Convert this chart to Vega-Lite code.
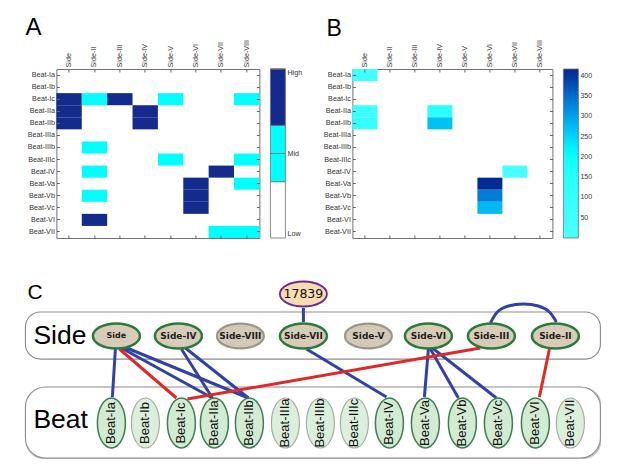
{
  "$schema": "https://vega.github.io/schema/vega-lite/v6.json",
  "padding": {"left": 24.4, "top": 15, "right": 0, "bottom": 0},
  "background": "white",
  "bounds": "flush",
  "spacing": 213,
  "config": {"font": "Liberation Sans", "view": {"stroke": "#707070"}},
  "datasets": {
    "heatA": [
      {"beat": "Beat-Ic", "side": "Side", "level": 3},
      {"beat": "Beat-Ic", "side": "Side-II", "level": 1.5},
      {"beat": "Beat-Ic", "side": "Side-III", "level": 3},
      {"beat": "Beat-Ic", "side": "Side-V", "level": 1.5},
      {"beat": "Beat-Ic", "side": "Side-VIII", "level": 1.5},
      {"beat": "Beat-IIa", "side": "Side", "level": 3},
      {"beat": "Beat-IIa", "side": "Side-IV", "level": 3},
      {"beat": "Beat-IIb", "side": "Side", "level": 3},
      {"beat": "Beat-IIb", "side": "Side-IV", "level": 3},
      {"beat": "Beat-IIIb", "side": "Side-II", "level": 1.5},
      {"beat": "Beat-IIIc", "side": "Side-V", "level": 1.5},
      {"beat": "Beat-IIIc", "side": "Side-VIII", "level": 1.5},
      {"beat": "Beat-IV", "side": "Side-II", "level": 1.5},
      {"beat": "Beat-IV", "side": "Side-VII", "level": 3},
      {"beat": "Beat-Va", "side": "Side-VI", "level": 3},
      {"beat": "Beat-Va", "side": "Side-VIII", "level": 1.5},
      {"beat": "Beat-Vb", "side": "Side-II", "level": 1.5},
      {"beat": "Beat-Vb", "side": "Side-VI", "level": 3},
      {"beat": "Beat-Vc", "side": "Side-VI", "level": 3},
      {"beat": "Beat-VI", "side": "Side-II", "level": 3},
      {"beat": "Beat-VII", "side": "Side-VII", "level": 1.5},
      {"beat": "Beat-VII", "side": "Side-VIII", "level": 1.5}
    ],
    "heatB": [
      {"beat": "Beat-Ia", "side": "Side", "count": 59},
      {"beat": "Beat-IIa", "side": "Side", "count": 72},
      {"beat": "Beat-IIb", "side": "Side", "count": 106},
      {"beat": "Beat-IIa", "side": "Side-IV", "count": 131},
      {"beat": "Beat-IIb", "side": "Side-IV", "count": 269},
      {"beat": "Beat-IV", "side": "Side-VII", "count": 26},
      {"beat": "Beat-Va", "side": "Side-VI", "count": 410},
      {"beat": "Beat-Vb", "side": "Side-VI", "count": 334},
      {"beat": "Beat-Vc", "side": "Side-VI", "count": 277}
    ],
    "boxes": [
      {"box": "Side", "x1": 25, "x2": 600, "y1": 310, "y2": 357},
      {"box": "Beat", "x1": 25, "x2": 600, "y1": 385, "y2": 456}
    ],
    "texts": [
      {"t": "C", "x": 27, "y": 297},
      {"t": "Side", "x": 33, "y": 342},
      {"t": "Beat", "x": 33, "y": 426}
    ],
    "edges": [
      {"from": "Side", "to": "Beat-Ia", "sign": "pos", "x": 115, "y": 347, "x2": 112, "y2": 395},
      {"from": "Side", "to": "Beat-IIa", "sign": "pos", "x": 121, "y": 346, "x2": 212, "y2": 396},
      {"from": "Side", "to": "Beat-IIb", "sign": "pos", "x": 124, "y": 345, "x2": 248, "y2": 396},
      {"from": "Side-IV", "to": "Beat-IIa", "sign": "pos", "x": 181, "y": 347, "x2": 212, "y2": 396},
      {"from": "Side-IV", "to": "Beat-IIb", "sign": "pos", "x": 185, "y": 346, "x2": 248, "y2": 396},
      {"from": "Side-VII", "to": "Beat-IV", "sign": "pos", "x": 306, "y": 347, "x2": 386, "y2": 395},
      {"from": "Side-VI", "to": "Beat-Va", "sign": "pos", "x": 428, "y": 347, "x2": 424, "y2": 395},
      {"from": "Side-VI", "to": "Beat-Vb", "sign": "pos", "x": 430, "y": 347, "x2": 458, "y2": 396},
      {"from": "Side-VI", "to": "Beat-Vc", "sign": "pos", "x": 432, "y": 346, "x2": 496, "y2": 396},
      {"from": "17839", "to": "Side-VII", "sign": "pos", "x": 303, "y": 306, "x2": 303, "y2": 320},
      {"from": "Side", "to": "Beat-Ic", "sign": "neg", "x": 119, "y": 347, "x2": 176, "y2": 396},
      {"from": "Side-III", "to": "Beat-Ic", "sign": "neg", "x": 480, "y": 346, "x2": 187, "y2": 397},
      {"from": "Side-II", "to": "Beat-VI", "sign": "neg", "x": 549, "y": 347, "x2": 539, "y2": 395}
    ],
    "arc": [
      {"x": 490, "y": 321},
      {"x": 497, "y": 310},
      {"x": 508, "y": 304},
      {"x": 523, "y": 302},
      {"x": 538, "y": 304},
      {"x": 549, "y": 310},
      {"x": 556, "y": 320}
    ],
    "nodes": [
      {"label": "17839", "kind": "key", "group": "key", "x": 303, "y": 292},
      {"label": "Side", "kind": "side", "group": "side-on", "x": 116, "y": 334},
      {"label": "Side-IV", "kind": "side", "group": "side-on", "x": 178, "y": 334},
      {"label": "Side-VIII", "kind": "side", "group": "side-off", "x": 240, "y": 334},
      {"label": "Side-VII", "kind": "side", "group": "side-on", "x": 303, "y": 334},
      {"label": "Side-V", "kind": "side", "group": "side-off", "x": 368, "y": 334},
      {"label": "Side-VI", "kind": "side", "group": "side-on", "x": 428, "y": 334},
      {"label": "Side-III", "kind": "side", "group": "side-on", "x": 491, "y": 334},
      {"label": "Side-II", "kind": "side", "group": "side-on", "x": 555, "y": 334},
      {"label": "Beat-Ia", "kind": "beat", "group": "beat-on", "x": 111, "y": 421},
      {"label": "Beat-Ib", "kind": "beat", "group": "beat-off", "x": 145, "y": 421},
      {"label": "Beat-Ic", "kind": "beat", "group": "beat-on", "x": 181, "y": 421},
      {"label": "Beat-IIa", "kind": "beat", "group": "beat-on", "x": 214, "y": 421},
      {"label": "Beat-IIb", "kind": "beat", "group": "beat-on", "x": 249, "y": 421},
      {"label": "Beat-IIIa", "kind": "beat", "group": "beat-off", "x": 285, "y": 421},
      {"label": "Beat-IIIb", "kind": "beat", "group": "beat-off", "x": 320, "y": 421},
      {"label": "Beat-IIIc", "kind": "beat", "group": "beat-off", "x": 354, "y": 421},
      {"label": "Beat-IV", "kind": "beat", "group": "beat-on", "x": 389, "y": 421},
      {"label": "Beat-Va", "kind": "beat", "group": "beat-on", "x": 425, "y": 421},
      {"label": "Beat-Vb", "kind": "beat", "group": "beat-on", "x": 462, "y": 421},
      {"label": "Beat-Vc", "kind": "beat", "group": "beat-on", "x": 498, "y": 421},
      {"label": "Beat-VI", "kind": "beat", "group": "beat-on", "x": 535, "y": 421},
      {"label": "Beat-VII", "kind": "beat", "group": "beat-off", "x": 570, "y": 421}
    ]
  },
  "vconcat": [
    {
      "bounds": "flush",
      "spacing": 93,
      "hconcat": [
        {
          "width": 203,
          "height": 169,
          "title": {"text": "A", "anchor": "start", "frame": "group", "dx": -31, "offset": -25, "baseline": "bottom", "fontSize": 24, "fontWeight": "normal", "font": "Liberation Sans", "color": "#000"},
          "data": {"name": "heatA"},
          "layer": [
            {
              "mark": {"type": "rect"},
              "encoding": {
                "x": {"field": "side", "type": "nominal",
                  "scale": {"type": "band", "domain": ["Side","Side-II","Side-III","Side-IV","Side-V","Side-VI","Side-VII","Side-VIII"], "paddingInner": 0, "paddingOuter": 0},
                  "axis": {"orient": "top", "title": null, "labelAngle": 270, "labelAlign": "left", "labelBaseline": "middle", "labelFontSize": 7.2, "labelColor": "#333", "labelFont": "Liberation Sans", "tickSize": -3, "tickColor": "#666", "labelPadding": 5, "domain": false, "grid": false}},
                "y": {"field": "beat", "type": "nominal",
                  "scale": {"type": "band", "domain": ["Beat-Ia","Beat-Ib","Beat-Ic","Beat-IIa","Beat-IIb","Beat-IIIa","Beat-IIIb","Beat-IIIc","Beat-IV","Beat-Va","Beat-Vb","Beat-Vc","Beat-VI","Beat-VII"], "paddingInner": 0, "paddingOuter": 0},
                  "axis": {"orient": "left", "title": null, "labelFontSize": 7.2, "labelColor": "#333", "labelFont": "Liberation Sans", "tickSize": -3, "tickColor": "#666", "labelPadding": 5, "domain": false, "grid": false}},
                "color": {"field": "level", "type": "quantitative",
                  "scale": {"type": "quantize", "domain": [0, 3], "range": ["#ffffff","#00ffff","#142a8c"]},
                  "legend": {"type": "gradient", "orient": "none", "legendX": 214, "legendY": 0, "direction": "vertical", "title": null, "gradientLength": 169, "gradientThickness": 15, "gradientStrokeColor": "#707070", "gradientStrokeWidth": 0.8, "values": [0, 1, 1.5, 2, 3], "labelExpr": "datum.value == 0 ? 'Low' : datum.value == 3 ? 'High' : datum.value == 1.5 ? 'Mid' : ''", "labelFontSize": 7.2, "labelColor": "#333", "labelFont": "Liberation Sans", "labelOffset": 2, "labelBaseline": "middle", "labelOverlap": false}}
              }
            },
            {
              "mark": {"type": "rect", "opacity": 0},
              "encoding": {
                "x": {"field": "side", "type": "nominal", "axis": {"orient": "bottom", "title": null, "labels": false, "tickSize": -3, "tickColor": "#666", "domain": false, "grid": false}},
                "y": {"field": "beat", "type": "nominal", "axis": {"orient": "right", "title": null, "labels": false, "tickSize": -3, "tickColor": "#666", "domain": false, "grid": false}}
              }
            }
          ],
          "resolve": {"axis": {"x": "independent", "y": "independent"}}
        },
        {
          "width": 200,
          "height": 169,
          "title": {"text": "B", "anchor": "start", "frame": "group", "dx": -26, "offset": -25, "baseline": "bottom", "fontSize": 23, "fontWeight": "normal", "font": "Liberation Sans", "color": "#000"},
          "data": {"name": "heatB"},
          "layer": [
            {
              "mark": {"type": "rect"},
              "encoding": {
                "x": {"field": "side", "type": "nominal",
                  "scale": {"type": "band", "domain": ["Side","Side-II","Side-III","Side-IV","Side-V","Side-VI","Side-VII","Side-VIII"], "paddingInner": 0, "paddingOuter": 0},
                  "axis": {"orient": "top", "title": null, "labelAngle": 270, "labelAlign": "left", "labelBaseline": "middle", "labelFontSize": 7.2, "labelColor": "#333", "labelFont": "Liberation Sans", "tickSize": -3, "tickColor": "#666", "labelPadding": 5, "domain": false, "grid": false}},
                "y": {"field": "beat", "type": "nominal",
                  "scale": {"type": "band", "domain": ["Beat-Ia","Beat-Ib","Beat-Ic","Beat-IIa","Beat-IIb","Beat-IIIa","Beat-IIIb","Beat-IIIc","Beat-IV","Beat-Va","Beat-Vb","Beat-Vc","Beat-VI","Beat-VII"], "paddingInner": 0, "paddingOuter": 0},
                  "axis": {"orient": "left", "title": null, "labelFontSize": 7.2, "labelColor": "#333", "labelFont": "Liberation Sans", "tickSize": -3, "tickColor": "#666", "labelPadding": 5, "domain": false, "grid": false}},
                "color": {"field": "count", "type": "quantitative",
                  "scale": {"domain": [0, 210, 417], "range": ["#ffffff", "#00ffff", "#13238a"]},
                  "legend": {"orient": "none", "legendX": 211, "legendY": 0, "direction": "vertical", "title": null, "gradientLength": 169, "gradientThickness": 15, "gradientStrokeColor": "#707070", "gradientStrokeWidth": 0.8, "values": [50, 100, 150, 200, 250, 300, 350, 400], "labelFontSize": 7, "labelColor": "#333", "labelFont": "Liberation Sans", "labelOffset": 2, "labelBaseline": "middle", "labelOverlap": false}}
              }
            },
            {
              "mark": {"type": "rect", "opacity": 0},
              "encoding": {
                "x": {"field": "side", "type": "nominal", "axis": {"orient": "bottom", "title": null, "labels": false, "tickSize": -3, "tickColor": "#666", "domain": false, "grid": false}},
                "y": {"field": "beat", "type": "nominal", "axis": {"orient": "right", "title": null, "labels": false, "tickSize": -3, "tickColor": "#666", "domain": false, "grid": false}}
              }
            }
          ],
          "resolve": {"axis": {"x": "independent", "y": "independent"}}
        }
      ]
    },
    {
      "width": 544,
      "height": 180,
      "view": {"stroke": null},
      "layer": [
        {
          "data": {"name": "boxes"},
          "mark": {"type": "rect", "cornerRadius": 17, "fill": null, "stroke": "#c4c4c4", "strokeWidth": 2, "xOffset": 1.2, "yOffset": 1.2},
          "encoding": {
            "x": {"field": "x1", "type": "quantitative", "scale": {"domain": [56, 600], "nice": false, "zero": false}, "axis": null},
            "x2": {"field": "x2"},
            "y": {"field": "y1", "type": "quantitative", "scale": {"domain": [280, 460], "nice": false, "zero": false, "reverse": true}, "axis": null},
            "y2": {"field": "y2"}
          }
        },
        {
          "data": {"name": "boxes"},
          "transform": [{"filter": "datum.box === 'Side'"}],
          "mark": {"type": "rect", "cornerRadius": 15, "fill": "#ffffff", "stroke": "#8c8c8c", "strokeWidth": 1.1},
          "encoding": {
            "x": {"field": "x1", "type": "quantitative", "axis": null},
            "x2": {"field": "x2"},
            "y": {"field": "y1", "type": "quantitative", "axis": null},
            "y2": {"field": "y2"}
          }
        },
        {
          "data": {"name": "boxes"},
          "transform": [{"filter": "datum.box === 'Beat'"}],
          "mark": {"type": "rect", "cornerRadius": 20, "fill": "#ffffff", "stroke": "#8c8c8c", "strokeWidth": 1.1},
          "encoding": {
            "x": {"field": "x1", "type": "quantitative", "axis": null},
            "x2": {"field": "x2"},
            "y": {"field": "y1", "type": "quantitative", "axis": null},
            "y2": {"field": "y2"}
          }
        },
        {
          "data": {"name": "edges"},
          "mark": {"type": "rule", "strokeWidth": 3},
          "encoding": {
            "x": {"field": "x", "type": "quantitative", "axis": null},
            "x2": {"field": "x2"},
            "y": {"field": "y", "type": "quantitative", "axis": null},
            "y2": {"field": "y2"},
            "color": {"field": "sign", "type": "nominal", "scale": {"domain": ["pos", "neg"], "range": ["#3142a3", "#e02828"]}, "legend": null}
          }
        },
        {
          "data": {"name": "arc"},
          "mark": {"type": "line", "interpolate": "natural", "strokeWidth": 3, "color": "#3142a3"},
          "encoding": {
            "x": {"field": "x", "type": "quantitative", "axis": null},
            "y": {"field": "y", "type": "quantitative", "axis": null}
          }
        },
        {
          "data": {"name": "nodes"},
          "transform": [{"filter": "datum.kind !== 'beat'"}],
          "mark": {"type": "point", "shape": "M-1,0C-1,-0.293,-0.552,-0.53,0,-0.53C0.552,-0.53,1,-0.293,1,0C1,0.293,0.552,0.53,0,0.53C-0.552,0.53,-1,0.293,-1,0Z", "size": 2209, "opacity": 1, "filled": true},
          "encoding": {
            "x": {"field": "x", "type": "quantitative", "axis": null},
            "y": {"field": "y", "type": "quantitative", "axis": null},
            "fill": {"field": "group", "type": "nominal", "scale": {"domain": ["side-on", "side-off", "key", "beat-on", "beat-off"], "range": ["#d8ccb8", "#d3c9b9", "#f8ddb0", "#d3ebd3", "#dcefdc"]}, "legend": null},
            "stroke": {"field": "group", "type": "nominal", "scale": {"domain": ["side-on", "side-off", "key", "beat-on", "beat-off"], "range": ["#2b7a3c", "#9c968a", "#6a2c8e", "#3f7f55", "#a3b0a3"]}, "legend": null},
            "strokeWidth": {"field": "group", "type": "nominal", "scale": {"domain": ["side-on", "side-off", "key", "beat-on", "beat-off"], "range": [2.5, 1.2, 2, 2, 1.2]}, "legend": null}
          }
        },
        {
          "data": {"name": "nodes"},
          "transform": [{"filter": "datum.kind === 'beat'"}],
          "mark": {"type": "point", "shape": "M-0.56,0C-0.56,-0.552,-0.309,-1,0,-1C0.309,-1,0.56,-0.552,0.56,0C0.56,0.552,0.309,1,0,1C-0.309,1,-0.56,0.552,-0.56,0Z", "size": 2500, "opacity": 1, "filled": true},
          "encoding": {
            "x": {"field": "x", "type": "quantitative", "axis": null},
            "y": {"field": "y", "type": "quantitative", "axis": null},
            "fill": {"field": "group", "type": "nominal", "legend": null},
            "stroke": {"field": "group", "type": "nominal", "legend": null},
            "strokeWidth": {"field": "group", "type": "nominal", "legend": null}
          }
        },
        {
          "data": {"name": "nodes"},
          "transform": [{"filter": "datum.kind === 'side'"}],
          "mark": {"type": "text", "font": "DejaVu Sans", "fontWeight": "bold", "align": "center", "baseline": "middle", "color": "#1e1e1e"},
          "encoding": {
            "x": {"field": "x", "type": "quantitative", "axis": null},
            "y": {"field": "y", "type": "quantitative", "axis": null},
            "text": {"field": "label"},
            "size": {"condition": {"test": "datum.label === 'Side'", "value": 8}, "value": 9}
          }
        },
        {
          "data": {"name": "nodes"},
          "transform": [{"filter": "datum.kind === 'key'"}],
          "mark": {"type": "text", "font": "DejaVu Sans", "fontSize": 12.5, "align": "center", "baseline": "middle", "color": "#111"},
          "encoding": {
            "x": {"field": "x", "type": "quantitative", "axis": null},
            "y": {"field": "y", "type": "quantitative", "axis": null},
            "text": {"field": "label"}
          }
        },
        {
          "data": {"name": "nodes"},
          "transform": [{"filter": "datum.kind === 'beat'"}],
          "mark": {"type": "text", "font": "Liberation Sans", "fontSize": 13, "angle": 270, "align": "center", "baseline": "middle", "color": "#111"},
          "encoding": {
            "x": {"field": "x", "type": "quantitative", "axis": null},
            "y": {"field": "y", "type": "quantitative", "axis": null},
            "text": {"field": "label"}
          }
        },
        {
          "data": {"name": "texts"},
          "mark": {"type": "text", "font": "Liberation Sans", "align": "left", "baseline": "alphabetic", "color": "#000"},
          "encoding": {
            "x": {"field": "x", "type": "quantitative", "axis": null},
            "y": {"field": "y", "type": "quantitative", "axis": null},
            "text": {"field": "t"},
            "size": {"condition": {"test": "datum.t === 'C'", "value": 21}, "value": 26.5}
          }
        }
      ]
    }
  ]
}
